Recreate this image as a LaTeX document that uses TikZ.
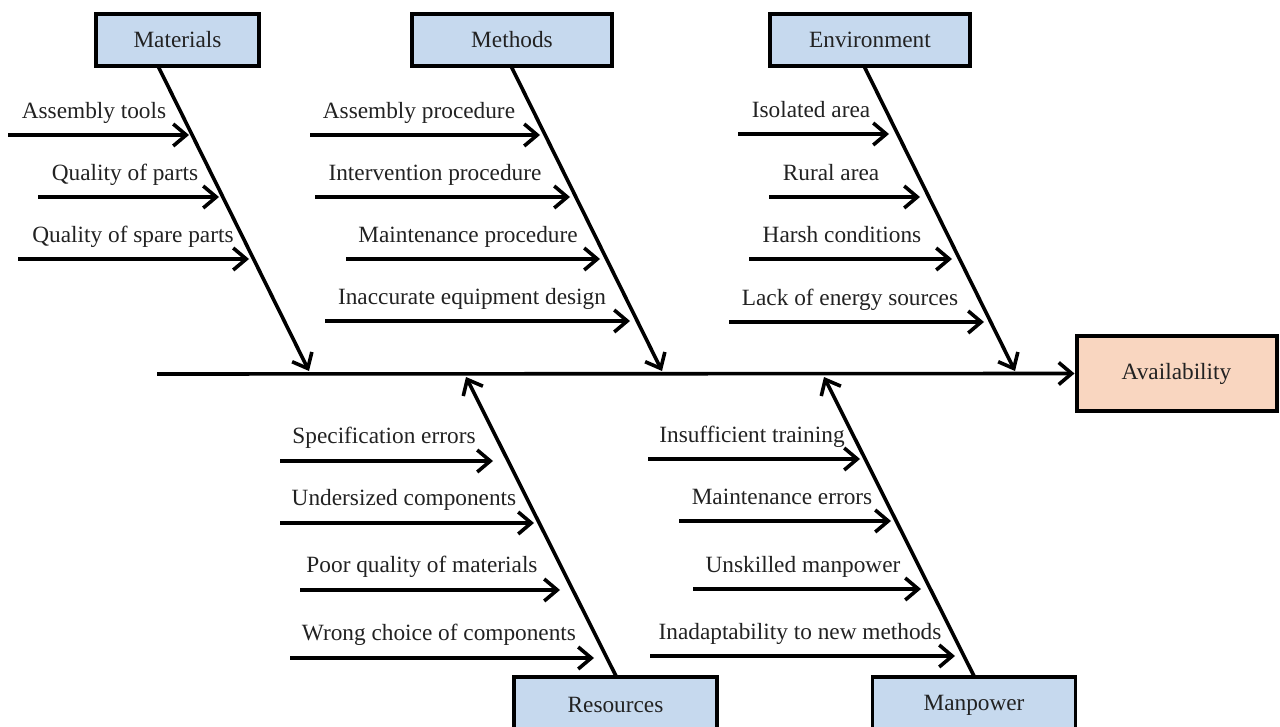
\documentclass[tikz,border=0pt]{standalone}
\usepackage{fontspec}
\setmainfont{Liberation Serif}
\usetikzlibrary{arrows.meta}
\definecolor{catblue}{HTML}{C6D9EE}
\definecolor{effpeach}{HTML}{F9D6C0}
\definecolor{txt}{HTML}{222222}
\begin{document}
\begin{tikzpicture}[x=1pt,y=-1pt,
  font=\fontsize{23.3}{27}\selectfont,
  catbox/.style={draw=black,line width=3.6pt,fill=catblue,text=txt,minimum width=163pt,minimum height=52pt,inner sep=0pt},
  lbl/.style={text=txt,inner sep=0pt,anchor=base},
  arr/.style={line width=3.6pt,-{Straight Barb[length=13pt,width=22pt,line width=3.6pt]}},
  bonearr/.style={line width=3.6pt,-{Straight Barb[length=13pt,width=22pt,line width=3.6pt]}}]
\useasboundingbox (0,0) rectangle (1280,727);
\fill[white] (0,0) rectangle (1280,727);

% effect box
\node[draw=black,line width=4pt,fill=effpeach,text=txt,minimum width=200pt,minimum height=75pt,inner sep=0pt] (eff) at (1176.5,373.5) {Availability};

% category boxes
\node[catbox] (mat) at (177.5,40) {Materials};
\node[catbox,minimum width=200pt] (met) at (512,40) {Methods};
\node[catbox,minimum width=200pt] (env) at (870,40) {Environment};
\node[catbox,minimum width=203pt,minimum height=60pt] (res) at (615.5,707) {};
\node[text=txt] at (615.5,705) {Resources};
\node[catbox,minimum width=203pt,minimum height=60pt] (man) at (974,707) {};
\node[text=txt] at (974,705) {Manpower};

% spine
\coordinate (s0) at (157,374);
\draw[bonearr] (s0) -- (eff.west);

% main bones
\coordinate (matE) at (309,371);
\coordinate (metE) at (662,371);
\coordinate (envE) at (1015,371);
\coordinate (resE) at (466,377);
\coordinate (manE) at (824,377);
\draw[bonearr] (158,66) -- (matE);
\draw[bonearr] (511,66) -- (metE);
\draw[bonearr] (864,66) -- (envE);
\draw[bonearr] (617,678) -- (resE);
\draw[bonearr] (975,678) -- (manE);

% Materials causes
\foreach \a/\b/\y/\tx/\t in {8/189/135/94/Assembly tools, 38/219/197/125/Quality of parts, 18/249/259/133/Quality of spare parts}{
  \draw[arr] (\a,\y) -- (\b,\y);
  \node[lbl] at (\tx,\y-16) {\t};
}
% Methods causes
\foreach \a/\b/\y/\tx/\t in {310/540/135/419/Assembly procedure, 315/570/197/435/Intervention procedure, 346/600/259/468/Maintenance procedure, 325/630/321/472/Inaccurate equipment design}{
  \draw[arr] (\a,\y) -- (\b,\y);
  \node[lbl] at (\tx,\y-16) {\t};
}
% Environment causes
\foreach \a/\b/\y/\tx/\t in {738/889/134/811/Isolated area, 769/920/197/831/Rural area, 749/952/259/842/Harsh conditions, 729/984/322/850/Lack of energy sources}{
  \draw[arr] (\a,\y) -- (\b,\y);
  \node[lbl] at (\tx,\y-16) {\t};
}
% Resources causes
\foreach \a/\b/\y/\tx/\t in {280/493/461/384/Specification errors, 280/534/523/404/Undersized components, 300/560/590/422/Poor quality of materials, 290/594/658/439/Wrong choice of components}{
  \draw[arr] (\a,\y) -- (\b,\y);
  \node[lbl] at (\tx,\y-18) {\t};
}
% Manpower causes
\foreach \a/\b/\y/\tx/\t in {648/860/459/752/Insufficient training, 679/891/521/782/Maintenance errors, 693/921/589/803/Unskilled manpower, 650/955/656/800/Inadaptability to new methods}{
  \draw[arr] (\a,\y) -- (\b,\y);
  \node[lbl] at (\tx,\y-17) {\t};
}
\end{tikzpicture}
\end{document}
